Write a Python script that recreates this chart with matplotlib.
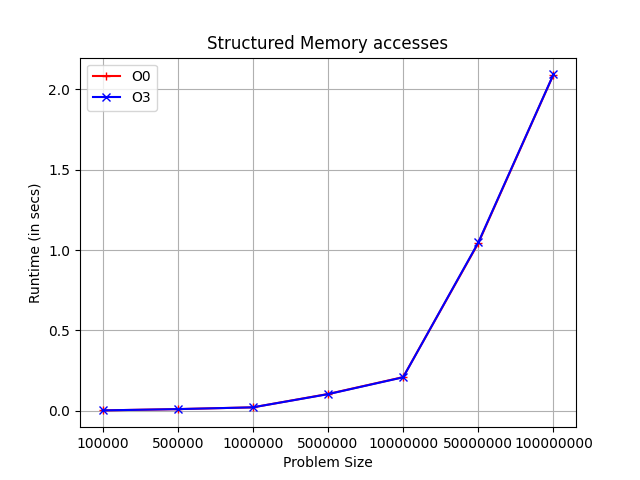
import matplotlib
matplotlib.use("Agg")
import matplotlib.pyplot as plt

sizes = ["100000", "500000", "1000000", "5000000", "10000000", "50000000", "100000000"]
o0 = [0.002, 0.010, 0.021, 0.104, 0.209, 1.043, 2.092]
o3 = [0.002, 0.010, 0.021, 0.103, 0.208, 1.047, 2.093]

fig, ax = plt.subplots(figsize=(6.4, 4.8), dpi=100)
x = list(range(len(sizes)))
ax.plot(x, o0, color="red", marker="+", label="O0")
ax.plot(x, o3, color="blue", marker="x", label="O3")
ax.set_xticks(x)
ax.set_xticklabels(sizes)
ax.set_xlabel("Problem Size")
ax.set_ylabel("Runtime (in secs)")
ax.set_title("Structured Memory accesses")
ax.grid(True)
ax.legend(loc="upper left")
fig.savefig("out.png")
